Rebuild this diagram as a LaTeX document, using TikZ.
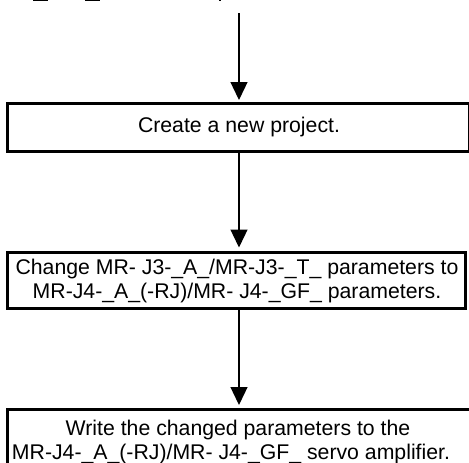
\documentclass[tikz,border=0pt]{standalone}
\usepackage{fontspec}
\setmainfont{Liberation Sans}
\usetikzlibrary{arrows.meta,calc}
\begin{document}
\begin{tikzpicture}[x=1pt,y=-1pt,
  box/.style={draw,line width=3pt,rectangle,inner sep=0pt,outer sep=0pt},
  lbl/.style={align=center,inner sep=0pt,font=\fontsize{21.25pt}{24pt}\selectfont},
  flow/.style={line width=1.3pt,-{Triangle[length=18pt,width=17pt]}},
  frag/.style={fill=black}]
\useasboundingbox (0,0) rectangle (469,463);
% fragments of text cut off at the top edge
\fill[frag] (33,0) rectangle (48,1.3);
\fill[frag] (85,0) rectangle (100,1.3);
\fill[frag] (218.5,0) rectangle (220.5,1.3);
% boxes
\node[box,minimum width=462pt,minimum height=48pt] (b1) at (238.5,127.5) {};
\node[box,minimum width=458pt,minimum height=56pt] (b2) at (236.5,280.5) {};
\node[box,minimum width=465pt,minimum height=64pt] (b3) at (240,441) {};
% texts
\node[lbl] (t1) at (239,127.5) {Create a new project.};
\node[lbl] (t2) at (237,281) {Change MR- J3-\_A\_/MR-J3-\_T\_ parameters to\\MR-J4-\_A\_(-RJ)/MR- J4-\_GF\_ parameters.};
\node[lbl,anchor=north] (t3) at (231,420) {\hspace*{14pt}Write the changed parameters to the\\MR-J4-\_A\_(-RJ)/MR- J4-\_GF\_ servo amplifier.};
% connectors
\coordinate (top) at (239,13);
\draw[flow,shorten >=3.5pt] (top) -- (top |- b1.north);
\draw[flow,shorten >=5pt] (top |- b1.south) -- (top |- b2.north);
\draw[flow,shorten >=4pt] (top |- b2.south) -- (top |- b3.north);
\end{tikzpicture}
\end{document}
